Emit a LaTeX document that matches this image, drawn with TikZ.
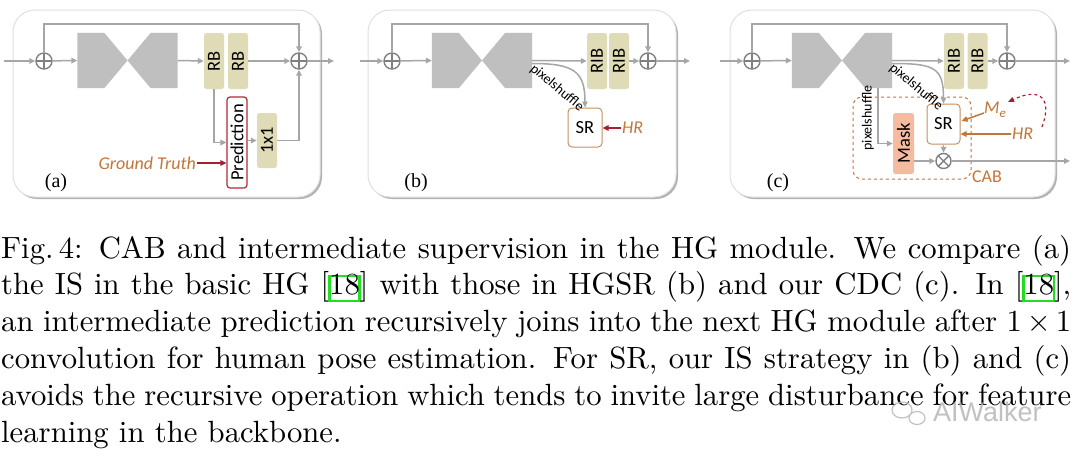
\documentclass[tikz,border=0pt]{standalone}
\usepackage{fontspec}
\newfontfamily\dg{Carlito}
\newfontfamily\tms{Liberation Serif}
\newfontfamily\wmf{Liberation Sans}
\newfontfamily\capf{lmroman10-regular.otf}
\usetikzlibrary{arrows.meta,calc,shadows}
\definecolor{lnc}{HTML}{A6A6A6}
\definecolor{opc}{HTML}{808080}
\definecolor{hgc}{HTML}{BFBFBF}
\definecolor{khc}{HTML}{DEDBB6}
\definecolor{orc}{HTML}{C4753A}
\definecolor{rdc}{HTML}{A8202E}
\definecolor{mskc}{HTML}{F5BBA0}
\definecolor{srbc}{HTML}{C8905E}
\definecolor{predc}{HTML}{B02A3A}
\definecolor{lgreen}{HTML}{22DD22}
\newcommand\gcite[1]{\setbox0\hbox{#1}\rlap{\kern-1pt\raisebox{-5pt}{\textcolor{lgreen}{\setlength\fboxsep{0pt}\setlength\fboxrule{2.5pt}\fbox{\rule{0pt}{22.5pt}\rule{\dimexpr\wd0-3pt\relax}{0pt}}}}}\box0}
\newcommand\capline[1]{\makebox[1070pt][s]{#1}}
\begin{document}
\begin{tikzpicture}[x=1pt,y=-1pt,
  frame/.style={draw=black!12, line width=1pt, fill=white, rounded corners=22pt, inner sep=0pt,
    minimum height=187pt, drop shadow={shadow xshift=2pt, shadow yshift=-2pt, fill=black!50, opacity=0.6}},
  gl/.style={draw=lnc, line width=1.5pt},
  ga/.style={gl, -{Triangle[length=6pt,width=5.5pt]}},
  ra/.style={draw=rdc, line width=1.5pt, -{Triangle[length=6pt,width=5.5pt]}},
  oa/.style={draw=orc, line width=1.5pt, -{Triangle[length=6pt,width=5.5pt]}},
  dgf/.style={font=\dg\fontsize{18.5}{20}\selectfont},
  kbox/.style={dgf, fill=khc, rounded corners=2.5pt, inner sep=0pt, minimum width=20pt, minimum height=56pt},
  hgbox/.style={inner sep=0pt, minimum width=100pt, minimum height=55pt},
  sumn/.style={circle, draw=opc, line width=1.4pt, minimum size=16pt, inner sep=0pt, fill=white,
    path picture={\draw[opc,line width=1.4pt] (path picture bounding box.north)--(path picture bounding box.south) (path picture bounding box.west)--(path picture bounding box.east);}},
  prodn/.style={circle, draw=opc, line width=1.4pt, minimum size=15pt, inner sep=0pt, fill=white,
    path picture={\draw[opc,line width=1.4pt] (path picture bounding box.north west)--(path picture bounding box.south east) (path picture bounding box.south west)--(path picture bounding box.north east);}},
  srbox/.style={dgf, draw=srbc, line width=1pt, fill=white, rounded corners=4pt, inner sep=0pt, minimum width=34pt, minimum height=39pt},
  lbl/.style={font=\tms\fontsize{20}{21}\selectfont},
  ital/.style={font=\dg\itshape\fontsize{18}{19}\selectfont, text=orc, inner sep=1pt},
  pxs/.style={font=\dg\fontsize{14}{15}\selectfont, inner sep=0pt},
  capl/.style={font=\capf\fontsize{30.7}{36.8}\selectfont, anchor=base west, inner sep=0pt}
]
\useasboundingbox (0,0) rectangle (1080,456);
\fill[white] (0,0) rectangle (1080,456);

% ---------- frames ----------
\node[frame, minimum width=307pt] (frA) at (166.5,103.5) {};
\node[frame, minimum width=308pt] (frB) at (522,103.5) {};
\node[frame, minimum width=325pt] (frC) at (892.5,103.5) {};

% ================= panel (a) =================
\coordinate (ina) at (4,61);
\coordinate (outa) at (334,61);
\coordinate (topa) at (0,24);
\node[sumn] (p1a) at (44,61) {};
\node[hgbox] (hgA) at (127.5,60.5) {};
\fill[hgc] (hgA.north west) -- ++(27,0) -- (hgA.center) -- ($(hgA.south west)+(27,0)$) -- (hgA.south west) -- cycle;
\fill[hgc] (hgA.north east) -- ++(-27,0) -- (hgA.center) -- ($(hgA.south east)+(-27,0)$) -- (hgA.south east) -- cycle;
\node[kbox] (rb1a) at (214,61) {\rotatebox{90}{RB}};
\node[kbox] (rb2a) at (238,61) {\rotatebox{90}{RB}};
\node[sumn] (p2a) at (299,61) {};
\node[dgf, draw=predc, line width=1.2pt, fill=white, rounded corners=3pt, inner sep=0pt, minimum width=20pt, minimum height=91pt] (preda) at (237,142.5) {\rotatebox{90}{Prediction}};
\node[kbox, minimum height=55pt] (onea) at (267,140.5) {\rotatebox{90}{1x1}};
\node[ital, anchor=east] (gt) at (197,163) {Ground Truth};
\node[lbl] (la) at (56,183) {(a)};

\draw[ga] (ina) -- (p1a);
\draw[ga] (p1a) -- (hgA.west);
\draw[ga] (p1a.north) -- (p1a |- topa) -| (p2a.north);
\draw[ga] (hgA.east) -- (rb1a.west);
\draw[ga] (rb2a.east) -- (p2a.west);
\draw[ga] (p2a.east) -- (outa);
\draw[ga] (rb1a.south) |- (preda.west);
\draw[ga] (preda.east |- onea.west) -- (onea.west);
\draw[ga] (onea.east) -| (p2a.south);
\draw[ra] (gt.east) -- (preda.west |- gt.east);

% ================= panel (b) =================
\coordinate (inb) at (360,61);
\coordinate (outb) at (690,61);
\node[sumn] (p1b) at (392,61) {};
\node[hgbox] (hgB) at (482,60.5) {};
\fill[hgc] (hgB.north west) -- ++(27,0) -- (hgB.center) -- ($(hgB.south west)+(27,0)$) -- (hgB.south west) -- cycle;
\fill[hgc] (hgB.north east) -- ++(-27,0) -- (hgB.center) -- ($(hgB.south east)+(-27,0)$) -- (hgB.south east) -- cycle;
\node[kbox] (rib1b) at (597,61) {\rotatebox{90}{RIB}};
\node[kbox] (rib2b) at (619,61) {\rotatebox{90}{RIB}};
\node[sumn] (p2b) at (648,61) {};
\node[srbox] (srb) at (585,127.5) {SR};
\node[ital, anchor=west] (hrb) at (621,128) {HR};
\node[pxs, rotate=-40] (pxb) at (557,88) {pixelshuffle};
\node[lbl] (lb) at (416,183) {(b)};

\draw[ga] (inb) -- (p1b);
\draw[ga] (p1b) -- (hgB.west);
\draw[ga] (p1b.north) -- (p1b |- topa) -| (p2b.north);
\draw[ga] (hgB.east) -- (rib1b.west);
\draw[ga] (rib2b.east) -- (p2b.west);
\draw[ga] (p2b.east) -- (outb);
\draw[ga] ($(hgB.east)+(0,3)$) .. controls +(42,0) and +(0,-36) .. (srb.north);
\draw[ra] (hrb.west) -- (srb.east |- hrb.west);

% ================= panel (c) =================
\coordinate (inc) at (720,61);
\coordinate (outc) at (1070,61);
\coordinate (outc2) at (1070,161);
\node[sumn] (p1c) at (752,61) {};
\node[hgbox] (hgC) at (842,60.5) {};
\fill[hgc] (hgC.north west) -- ++(27,0) -- (hgC.center) -- ($(hgC.south west)+(27,0)$) -- (hgC.south west) -- cycle;
\fill[hgc] (hgC.north east) -- ++(-27,0) -- (hgC.center) -- ($(hgC.south east)+(-27,0)$) -- (hgC.south east) -- cycle;
\node[kbox] (rib1c) at (954,61) {\rotatebox{90}{RIB}};
\node[kbox] (rib2c) at (977.5,61) {\rotatebox{90}{RIB}};
\node[sumn] (p2c) at (1007,61) {};
\node[draw=orc, dashed, line width=1pt, rounded corners=9pt, minimum width=118pt, minimum height=82pt, inner sep=0pt] (cab) at (912,138) {};
\node[font=\dg\fontsize{18}{19}\selectfont, text=orc, inner sep=0pt] (cabl) at (987,177) {CAB};
\node[srbox, minimum width=33pt, minimum height=40pt] (src) at (943.5,124) {SR};
\node[dgf, fill=mskc, rounded corners=2.5pt, inner sep=0pt, minimum width=21pt, minimum height=61pt] (mask) at (903.5,143.5) {\rotatebox{90}{Mask}};
\node[prodn] (otc) at (943.5,161) {};
\node[ital] (me) at (995,110) {M\raisebox{-4pt}{\fontsize{13}{13}\selectfont e}};
\node[ital, anchor=west] (hrc) at (1011,134) {HR};
\node[pxs, rotate=-40] (pxc1) at (916,87) {pixelshuffle};
\node[pxs] (pxc2) at (868,118) {\rotatebox{90}{pixelshuffle}};
\coordinate (psd) at ($(hgC.south east)+(-14,0)$);
\coordinate (rdA) at (1042,127);
\coordinate (rdB) at (1008,102);
\node[lbl] (lc) at (778,183) {(c)};

\draw[ga] (inc) -- (p1c);
\draw[ga] (p1c) -- (hgC.west);
\draw[ga] (p1c.north) -- (p1c |- topa) -| (p2c.north);
\draw[ga] (hgC.east) -- (rib1c.west);
\draw[ga] (rib2c.east) -- (p2c.west);
\draw[ga] (p2c.east) -- (outc);
\draw[ga] ($(hgC.east)+(0,3)$) .. controls +(42,0) and +(0,-36) .. (src.north);
\draw[ga] (psd) |- (mask.west);
\draw[ga] (src.south) -- (otc.north);
\draw[ga] (mask.east |- otc) -- (otc.west);
\draw[ga] (otc.east) -- (outc2);
\draw[oa] ($(me.west)+(1,3)$) -- ($(src.east)+(1,-3)$);
\draw[oa] (hrc.west) -- (src.east |- hrc.west);
\draw[draw=rdc, line width=1.2pt, dashed, -{Triangle[length=6pt,width=5pt]}] (rdA) .. controls (1052,100) and (1042,86) .. (rdB);

% ================= caption =================
\node[capl] (c1) at (1,258) {\capline{Fig.\,4: CAB and intermediate supervision in the HG module. We compare (a)}};
\node[capl] (c2) at (1,294.8) {\capline{the IS in the basic HG [\gcite{18}] with those in HGSR (b) and our CDC (c). In [\gcite{18}],}};
\node[capl] (c3) at (1,331.6) {\capline{an intermediate prediction recursively joins into the next HG module after 1\hspace{5pt}×\hspace{5pt}1}};
\node[capl] (c4) at (1,368.4) {\capline{convolution for human pose estimation. For SR, our IS strategy in (b) and (c)}};
\node[capl] (c5) at (1,405.2) {\capline{avoids the recursive operation which tends to invite large disturbance for feature}};
\node[capl] (c6) at (1,442) {learning in the backbone.};

% watermark
\node[font=\wmf\fontsize{27}{28}\selectfont, text=black!30, opacity=0.8, anchor=west, inner sep=0pt] (wm) at (933,412) {AIWalker};
\draw[black!30, line width=1.2pt, opacity=0.8] (902,410) ellipse (10pt and 8pt) (917,418) ellipse (8pt and 6.5pt);
\end{tikzpicture}
\end{document}
